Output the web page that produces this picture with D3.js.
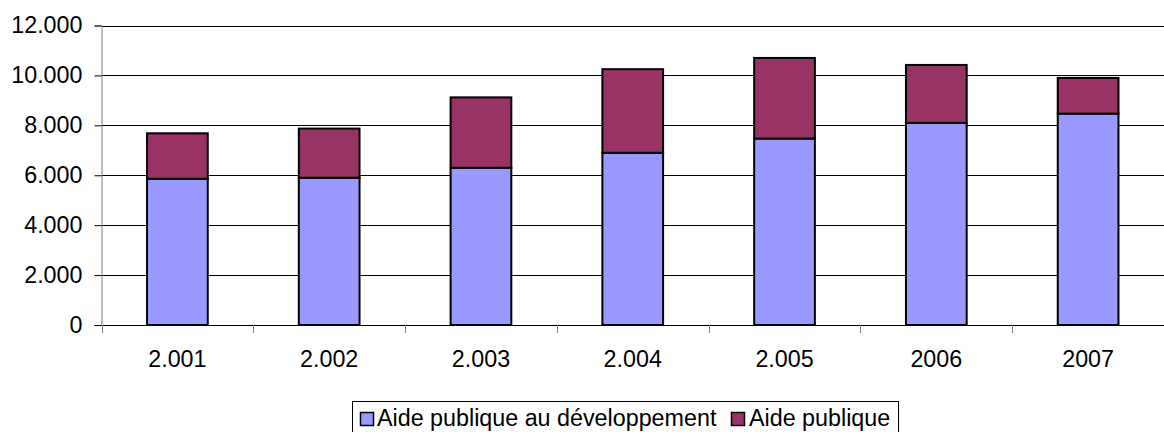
<!DOCTYPE html>
<html>
<head>
<meta charset="utf-8">
<script src="https://cdn.jsdelivr.net/npm/d3@7"></script>
<style>
  html, body { margin: 0; padding: 0; background: #fff; }
  svg { display: block; }
  text { font-family: "Liberation Sans", Arial, sans-serif; fill: #000; }
</style>
</head>
<body>
<svg id="chart" width="1164" height="432"></svg>
<script>
// Years on the category axis
const categories = ["2.001", "2.002", "2.003", "2.004", "2.005", "2006", "2007"];
// Stacked series (bottom to top)
const seriesNames = ["Aide publique au développement", "Aide publique"];
const apd = [5860, 5900, 6300, 6900, 7470, 8100, 8470];
const aidePublique = [1820, 1970, 2820, 3350, 3230, 2320, 1430];
const yTicks = [0, 2000, 4000, 6000, 8000, 10000, 12000];
const colors = ["#9999FF", "#993366"];

const FS = "23.3px";
const svg = d3.select("#chart");
const W = 1164, H = 432;
const m = { left: 101.5, right: 0, top: 25.5, bottom: 107 };
const x0 = m.left, x1 = W - m.right, y0 = H - m.bottom, y1 = m.top;

const x = d3.scaleBand().domain(categories).range([x0, x1]).paddingInner(0.6).paddingOuter(0.3);
const xStep = d3.scaleBand().domain(categories).range([x0, x1]);
const y = d3.scaleLinear().domain([0, 12000]).range([y0, y1]);

const fmt = v => v === 0 ? "0" : d3.format(",")(v).replace(/,/g, ".");

// Horizontal gridlines
svg.append("g").selectAll("line").data(yTicks.filter(t => t > 0)).join("line")
  .attr("x1", x0).attr("x2", x1)
  .attr("y1", d => Math.round(y(d)) + 0.5).attr("y2", d => Math.round(y(d)) + 0.5)
  .attr("stroke", "#000").attr("stroke-width", 1);

// Y axis
const yAxis = d3.axisLeft(y).tickValues(yTicks).tickFormat(fmt).tickSize(7).tickPadding(12);
const gy = svg.append("g").attr("transform", `translate(${x0},0)`).call(yAxis);
gy.select(".domain").attr("stroke", "#808080");
gy.selectAll(".tick line").attr("stroke", "#000");
gy.selectAll(".tick text").style("font-size", FS).attr("fill", "#000")
  .style("font-family", '"Liberation Sans", Arial, sans-serif');

// Stacked bars
const rows = categories.map((c, i) => ({ cat: c, apd: apd[i], ap: aidePublique[i] }));
const stack = d3.stack().keys(["apd", "ap"])(rows);
svg.append("g").selectAll("g").data(stack).join("g")
  .attr("fill", (d, i) => colors[i])
  .selectAll("rect").data(d => d).join("rect")
  .attr("x", d => x(d.data.cat))
  .attr("width", x.bandwidth())
  .attr("y", d => y(d[1]))
  .attr("height", d => y(d[0]) - y(d[1]))
  .attr("stroke", "#000").attr("stroke-width", 2);

// X axis
const gx = svg.append("g").attr("transform", `translate(0,${y0})`);
gx.append("line").attr("x1", x0).attr("x2", x1).attr("y1", 0.5).attr("y2", 0.5).attr("stroke", "#000");
const bounds = categories.map(c => xStep(c)).concat([x1]);
gx.selectAll("line.tk").data(bounds).join("line").attr("class", "tk")
  .attr("x1", d => Math.round(d) + 0.5).attr("x2", d => Math.round(d) + 0.5)
  .attr("y1", 0).attr("y2", 8).attr("stroke", "#808080");
gx.selectAll("text").data(categories).join("text")
  .attr("x", d => xStep(d) + xStep.bandwidth() / 2)
  .attr("y", 42).attr("text-anchor", "middle")
  .style("font-size", FS).text(d => d);

// Legend
const lg = svg.append("g");
lg.append("rect").attr("x", 352.5).attr("y", 401.5).attr("width", 546).attr("height", 40)
  .attr("fill", "#fff").attr("stroke", "#000");
const items = [{ x: 360, tx: 377 }, { x: 731, tx: 749 }];
items.forEach((it, i) => {
  lg.append("rect").attr("x", it.x + 0.5).attr("y", 412.5).attr("width", 13).attr("height", 13)
    .attr("fill", colors[i]).attr("stroke", "#000").attr("stroke-width", 1.5);
  lg.append("text").attr("x", it.tx).attr("y", 426).style("font-size", FS).text(seriesNames[i]);
});
</script>
</body>
</html>
